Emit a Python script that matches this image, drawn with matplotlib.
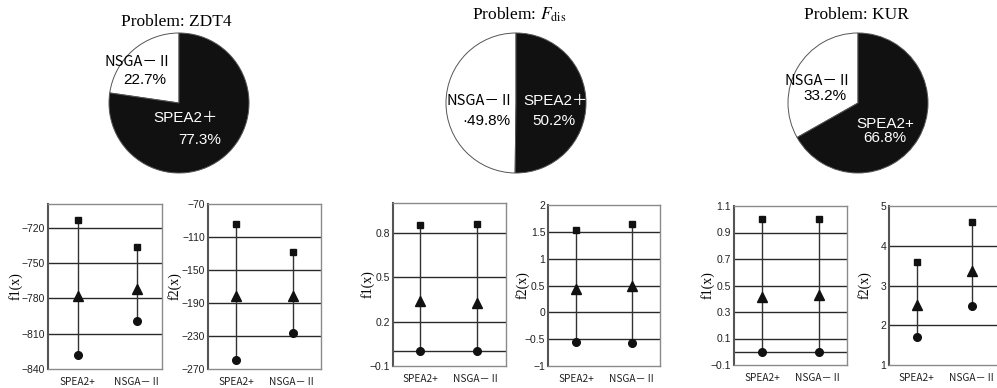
import numpy as np
import matplotlib.pyplot as plt

plt.rcParams['mathtext.fontset'] = 'stix'

# pie data (NSGA-II share, SPEA2+ share)
problems = ["ZDT4", "Fdis", "KUR"]
titles = ["Problem: ZDT4", r"Problem: $F_{\rm dis}$", "Problem: KUR"]
nsga_share = [22.7, 49.8, 33.2]
spea_share = [77.3, 50.2, 66.8]
nsga_lbl = ["22.7%", "·49.8%", "33.2%"]
spea_name = ["SPEA2＋", "SPEA2＋", "SPEA2+"]
spea_lbl = ["77.3%", "50.2%", "66.8%"]

# range plots: [SPEA2+, NSGA-II] -> max (square), mean (triangle), min (circle)
algos = ["SPEA2+", "NSGA－Ⅱ"]
zdt4_f1_max = [-713.4, -736.9]
zdt4_f1_mean = [-778.0, -772.3]
zdt4_f1_min = [-828.0, -798.9]
zdt4_f2_max = [-94.5, -128.0]
zdt4_f2_mean = [-181.4, -181.4]
zdt4_f2_min = [-259.0, -226.3]
fdis_f1_max = [0.85, 0.861]
fdis_f1_mean = [0.341, 0.323]
fdis_f1_min = [0.002, 0.0]
fdis_f2_max = [1.537, 1.637]
fdis_f2_mean = [0.43, 0.49]
fdis_f2_min = [-0.56, -0.58]
kur_f1_max = [1.0, 1.0]
kur_f1_mean = [0.41, 0.427]
kur_f1_min = [0.0, 0.0]
kur_f2_max = [3.586, 4.607]
kur_f2_mean = [2.506, 3.36]
kur_f2_min = [1.71, 2.48]

W, H = 997, 388
fig = plt.figure(figsize=(W / 100, H / 100), dpi=100)
sans = ['Liberation Sans', 'Noto Sans CJK JP', 'DejaVu Sans']
cjk = ['Noto Sans CJK JP', 'DejaVu Sans']
serif = ['Liberation Serif', 'DejaVu Serif']

def px_axes(l, t, r, b):
    return fig.add_axes([l / W, (H - b) / H, (r - l) / W, (b - t) / H])

# ---- pies
pie_cx = [179, 516, 858]
pie_cy = 103
R = 70
title_pos = [(176, 22), (519, 15), (856, 15)]
# label positions in pie units (x, y)
nsga_name_xy = [(-0.586, 0.586), (-0.514, 0.029), (-0.571, 0.321)]
nsga_pct_xy = [(-0.486, 0.329), (-0.43, -0.257), (-0.471, 0.10)]
spea_name_xy = [(0.086, -0.214), (0.557, 0.029), (0.386, -0.30)]
spea_pct_xy = [(0.30, -0.529), (0.543, -0.257), (0.386, -0.507)]

for i in range(3):
    cx = pie_cx[i]
    ax = px_axes(cx - R - 2, pie_cy - R - 2, cx + R + 2, pie_cy + R + 2)
    ax.pie([nsga_share[i], spea_share[i]], colors=['white', '#111111'],
           startangle=90, counterclock=True, radius=1.0,
           wedgeprops=dict(edgecolor='#555555', linewidth=0.7))
    lim = (R + 2) / R
    ax.set_xlim(-lim, lim)
    ax.set_ylim(-lim, lim)
    ax.set_aspect('auto')
    ax.axis('off')
    ax.text(*nsga_name_xy[i], "NSGA－Ⅱ", ha='center', va='center', fontsize=10.5,
            family=cjk, color='black')
    ax.text(*nsga_pct_xy[i], nsga_lbl[i], ha='center', va='center', fontsize=11,
            family=sans, color='black')
    ax.text(*spea_name_xy[i], spea_name[i], ha='center', va='center', fontsize=11,
            family=sans, color='white')
    ax.text(*spea_pct_xy[i], spea_lbl[i], ha='center', va='center', fontsize=11,
            family=sans, color='white')
    fig.text(title_pos[i][0] / W, 1 - title_pos[i][1] / H, titles[i],
             ha='center', va='center', fontsize=12.5, family=serif)

# ---- range plots
panels = [
    ((48, 204, 162, 369), zdt4_f1_max, zdt4_f1_mean, zdt4_f1_min, (-840, -700),
     [-840, -810, -780, -750, -720], [-810, -780, -750, -720], ["−840", "−810", "−780", "−750", "−720"],
     "f1(x)", (0.5, 2.42), 32),
    ((208, 204, 321, 369), zdt4_f2_max, zdt4_f2_mean, zdt4_f2_min, (-270, -70),
     [-270, -230, -190, -150, -110, -70], [-230, -190, -150, -110], ["−270", "−230", "−190", "−150", "−110", "−70"],
     "f2(x)", (0.5, 2.5), 33),
    ((393, 203, 506, 366), fdis_f1_max, fdis_f1_mean, fdis_f1_min, (-0.1, 1.0),
     [-0.1, 0.2, 0.5, 0.8], [0.0, 0.2, 0.5, 0.8], ["−0.1", "0.2", "0.5", "0.8"],
     "f1(x)", (0.52, 2.52), 25),
    ((548, 205, 660, 366), fdis_f2_max, fdis_f2_mean, fdis_f2_min, (-1, 2),
     [-1, -0.5, 0, 0.5, 1, 1.5, 2], [-0.5, 0, 0.5, 1, 1.5], ["−1", "−0.5", "0", "0.5", "1", "1.5", "2"],
     "f2(x)", (0.5, 2.5), 25),
    ((734, 206, 847, 365), kur_f1_max, kur_f1_mean, kur_f1_min, (-0.1, 1.1),
     [-0.1, 0.1, 0.3, 0.5, 0.7, 0.9, 1.1], [0.0, 0.1, 0.3, 0.5, 0.7, 0.9], ["−0.1", "0.1", "0.3", "0.5", "0.7", "0.9", "1.1"],
     "f1(x)", (0.5, 2.5), 26),
    ((889, 206, 1000, 365), kur_f2_max, kur_f2_mean, kur_f2_min, (1, 5),
     [1, 2, 3, 4, 5], [2, 3, 4], ["1", "2", "3", "4", "5"],
     "f2(x)", (0.5, 2.5), 24),
]

xpos = np.array([1, 2])
for box, vmax, vmean, vmin, ylim, ticks, grid, tlabels, ylab, xlim, lab_off in panels:
    ax = px_axes(*box)
    for g in grid:
        ax.axhline(g, color='#2a2a2a', lw=1.0, zorder=1)
    ax.vlines(xpos, vmin, vmax, color='#333333', lw=1.0, zorder=2)
    ax.plot(xpos, vmax, 's', color='#111111', ms=5, zorder=3)
    ax.plot(xpos, vmean, '^', color='#111111', ms=7.5, zorder=3)
    ax.plot(xpos, vmin, 'o', color='#111111', ms=5.5, zorder=3)
    ax.set_ylim(*ylim)
    ax.set_xlim(*xlim)
    ax.set_yticks(ticks)
    ax.set_yticklabels(tlabels, family=sans, fontsize=7.5, color='#222222')
    ax.set_xticks(xpos)
    ax.set_xticklabels(algos, family=cjk, fontsize=7.3, color='#222222')
    ax.tick_params(length=0, pad=2)
    ax.tick_params(axis='x', pad=6)
    for s in ['top', 'right', 'bottom']:
        ax.spines[s].set_color('#8a8a8a')
        ax.spines[s].set_linewidth(1.0)
    ax.spines['left'].set_color('#555555')
    ax.spines['left'].set_linewidth(1.5)
    ax.set_ylabel(ylab, family=serif, fontsize=10, va='center')
    ax.yaxis.set_label_coords(-lab_off / (box[2] - box[0]), 0.5)

fig.savefig('out.png', dpi=100)
